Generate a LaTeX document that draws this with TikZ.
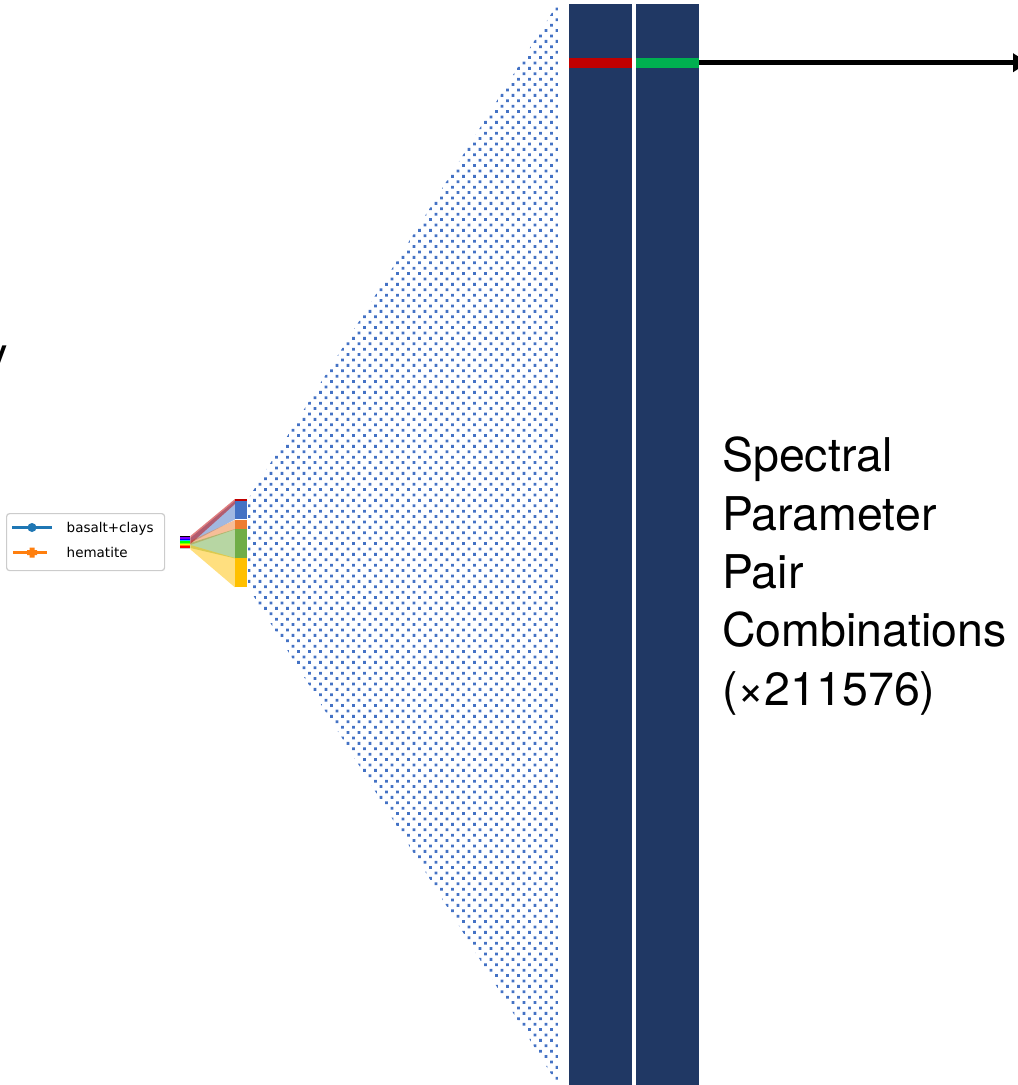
\documentclass[tikz,border=0pt]{standalone}
\usepackage{fontspec}
\setmainfont{TeX Gyre Heros}
\newfontfamily\legendfont{DejaVu Sans}
\usetikzlibrary{positioning,arrows.meta,calc,patterns}
\definecolor{barnavy}{HTML}{203864}
\definecolor{stripeRed}{HTML}{C00000}
\definecolor{stripeGreen}{HTML}{00B050}
\definecolor{segBlue}{HTML}{4472C4}
\definecolor{segOrange}{HTML}{ED7D31}
\definecolor{segGreen}{HTML}{70AD47}
\definecolor{segYellow}{HTML}{FFC000}
\definecolor{tabBlue}{HTML}{1F77B4}
\definecolor{tabOrange}{HTML}{FF7F0E}
\definecolor{legGray}{HTML}{CCCCCC}
\definecolor{specV}{HTML}{7F00FF}
\definecolor{specC}{HTML}{00BFFF}
\definecolor{specLG}{HTML}{7FFF00}
\definecolor{specO}{HTML}{FF8000}
\definecolor{specGray}{HTML}{C8C8C8}

\pgfdeclarepatterninherentlycolored{bluedots}{\pgfpoint{-0.5pt}{-0.5pt}}{\pgfpoint{9pt}{9pt}}{\pgfpoint{11pt}{10.8pt}}{%
  \pgfsetfillcolor{segBlue}%
  \pgfpathrectangle{\pgfpoint{0pt}{0pt}}{\pgfpoint{2.8pt}{2.8pt}}%
  \pgfpathrectangle{\pgfpoint{5.5pt}{5.4pt}}{\pgfpoint{2.8pt}{2.8pt}}%
  \pgfusepath{fill}}

\begin{document}
\begin{tikzpicture}[
      x=1pt, y=-1pt,
      bar/.style={fill=barnavy, inner sep=0pt, minimum width=63pt, minimum height=1081pt, anchor=north west},
      stripe/.style={inner sep=0pt, minimum width=63pt, minimum height=10pt, anchor=west},
      seg/.style={inner sep=0pt, minimum width=12pt, anchor=north west},
      fan/.style={fill opacity=0.5},
      legtxt/.style={font=\legendfont\fontsize{13.5}{16}\selectfont, anchor=base west, inner sep=0pt},
      bigtxt/.style={font=\fontsize{46.5}{58.3}\selectfont, align=left, anchor=north west, inner sep=0pt},
      arr/.style={-{Triangle[length=15pt,width=18pt]}, line width=4.5pt, draw=black}
    ]
    \useasboundingbox (0,0) rectangle (1018,1085);
    \clip (0,0) rectangle (1018,1085);
    % ------------- cut-off letter -------------
    \node[font=\fontsize{47}{56}\selectfont, anchor=base east, inner sep=0pt] (cutY) at (8.5,370) {y};
    % ------------- legend -------------
    \node[draw=legGray, line width=1.2pt, rounded corners=3pt, fill=white, minimum width=158pt,
          minimum height=57pt, anchor=north west, inner sep=0pt] (legend) at (6,513) {};
    \draw[tabBlue, line width=3pt] (12,527.5) -- (52,527.5);
    \fill[tabBlue] (32,527.5) circle (4.5);
    \draw[tabOrange, line width=3pt] (13,552.5) -- (47,552.5);
    \fill[tabOrange] (29.5,547.5) rectangle (34.5,557.5) (27,550) rectangle (37,555);
    \node[legtxt] (legA) at (66.5,532.5) {basalt+clays};
    \node[legtxt] (legB) at (66.5,557.5) {hematite};
    % ------------- spectrum block -------------
    \node[anchor=north west, minimum width=10pt, minimum height=13pt, inner sep=0pt] (spec) at (180,536) {};
    \foreach \c [count=\i] in {black,specV,blue,specC,green,specLG,yellow,specO,red,specGray}
      \fill[\c] ($(spec.north west)+(0,{(\i-1)*1.3})$) rectangle ++(10,1.3);
    % ------------- stacked column -------------
    \node[seg, fill=stripeRed, minimum height=2pt] (sRed) at (235,499) {};
    \node[seg, fill=segBlue, minimum height=18pt] (sBlue) at (235,501) {};
    \node[seg, fill=segOrange, minimum height=9pt] (sOrange) at (235,520) {};
    \node[seg, fill=segGreen, minimum height=29pt] (sGreen) at (235,529) {};
    \node[seg, fill=segYellow, minimum height=29pt] (sYellow) at (235,558) {};
    % fans
    \fill[fan, segBlue] ($(spec.north east)+(0,2)$) -- (sBlue.north west) -- (sBlue.south west) -- ($(spec.north east)+(0,7)$) -- cycle;
    \fill[fan, segOrange] ($(spec.north east)+(0,5)$) -- (sOrange.north west) -- (sOrange.south west) -- ($(spec.north east)+(0,9)$) -- cycle;
    \fill[fan, segGreen] ($(spec.north east)+(0,7)$) -- (sGreen.north west) -- (sGreen.south west) -- ($(spec.north east)+(0,12)$) -- cycle;
    \fill[fan, segYellow] ($(spec.north east)+(0,9)$) -- (sYellow.north west) -- (sYellow.south west) -- (spec.south east) -- cycle;
    \fill[fan, stripeRed] (spec.north east) -- (sRed.north west) -- ($(sBlue.north west)+(0,3)$) -- ($(spec.north east)+(0,8)$) -- cycle;
    % ------------- dotted spread -------------
    \fill[pattern=bluedots] (248,499) -- (558,3) -- (558,1085) -- (248,587) -- cycle;
    % ------------- pair bars -------------
    \node[bar] (barA) at (569,4) {};
    \node[bar] (barB) at (636,4) {};
    \node[stripe, fill=stripeRed] (stripeA) at (569,62.7) {};
    \node[stripe, fill=stripeGreen] (stripeB) at (636,62.7) {};
    \coordinate (tipEnd) at (1028,62.7);
    \draw[arr] (stripeB.east) -- (tipEnd);
    % ------------- label -------------
    \node[bigtxt] (pairTxt) at (722,437) {Spectral\\Parameter\\Pair\\Combinations\\(×211576)};
  \end{tikzpicture}
\end{document}
